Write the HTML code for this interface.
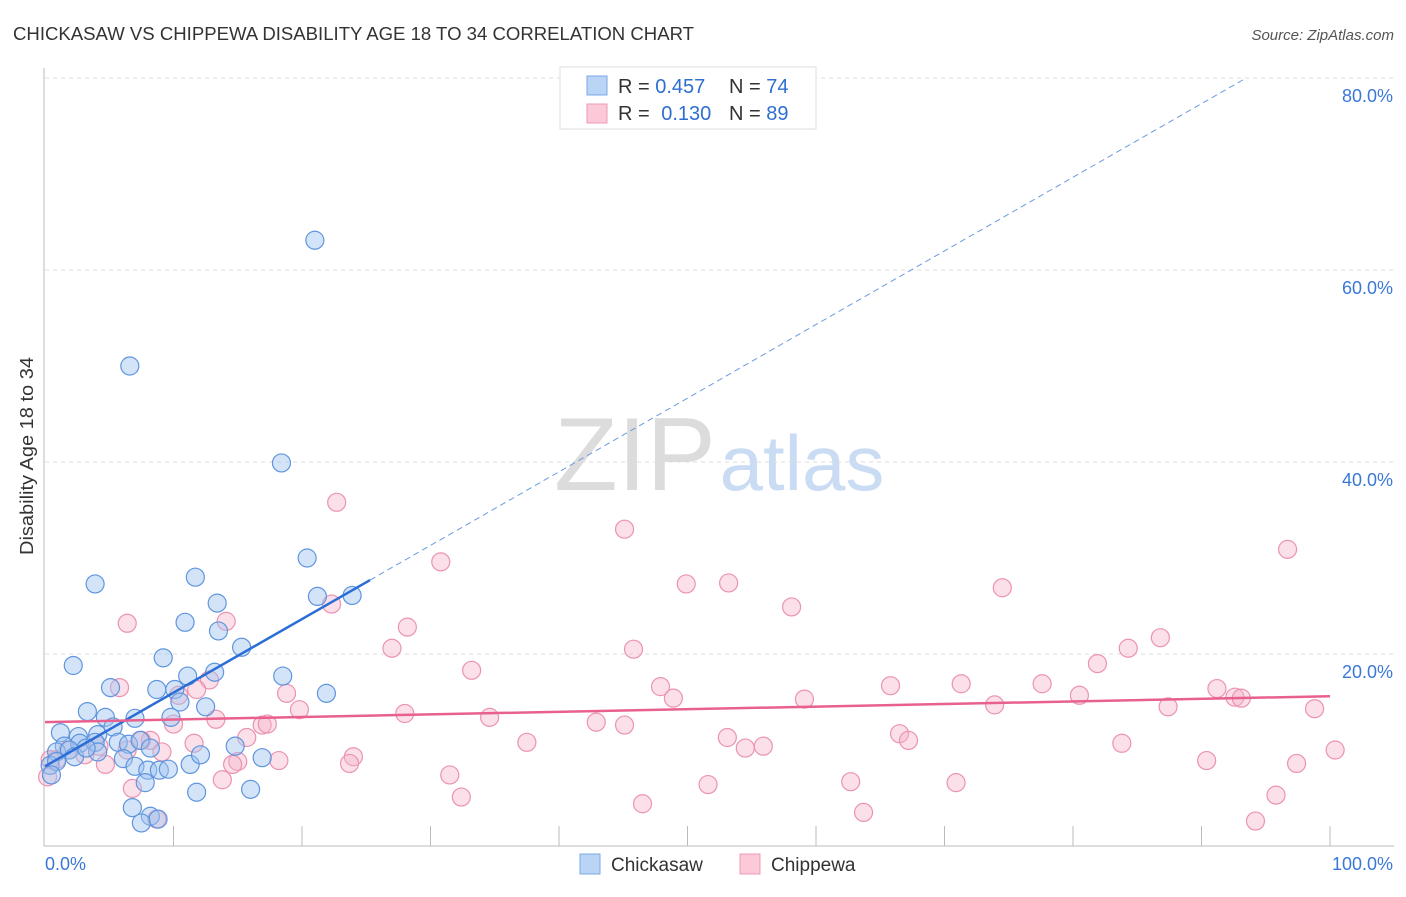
<!DOCTYPE html>
<html><head><meta charset="utf-8"><style>
body{margin:0;background:#fff;font-family:"Liberation Sans",sans-serif;}
svg text{font-family:"Liberation Sans",sans-serif;}
</style></head><body>
<svg id="chart" width="1406" height="892" xmlns="http://www.w3.org/2000/svg">
<text x="13" y="40" font-size="18" fill="#333" textLength="681" lengthAdjust="spacingAndGlyphs">CHICKASAW VS CHIPPEWA DISABILITY AGE 18 TO 34 CORRELATION CHART</text>
<text x="1394" y="40" font-size="15" fill="#555" text-anchor="end" font-style="italic">Source: ZipAtlas.com</text>
<g>
<text x="635" y="490" font-size="104" fill="#dcdcdc" text-anchor="middle" font-family="Liberation Serif,serif">ZIP</text>
<text x="802" y="490" font-size="78" fill="#c9dcf3" text-anchor="middle">atlas</text>
</g>
<g id="grid"></g>
<g id="axes"></g>
<g id="pts"></g>
<g id="lines"></g>
<text transform="translate(33,456) rotate(-90)" font-size="18" fill="#333" text-anchor="middle" textLength="198" lengthAdjust="spacingAndGlyphs">Disability Age 18 to 34</text>
<g>
<rect x="560" y="67" width="256" height="62" fill="#fff" stroke="#ddd"/>
<rect x="587" y="76" width="20" height="19" fill="#b9d4f5" stroke="#7aa8e6"/>
<rect x="587" y="104" width="20" height="19" fill="#fbc9d7" stroke="#ef9bb5"/>
<text x="618" y="93" font-size="20" fill="#333">R = <tspan fill="#2f6fd0">0.457</tspan></text>
<text x="729" y="93" font-size="20" fill="#333">N = <tspan fill="#2f6fd0">74</tspan></text>
<text x="618" y="120" font-size="20" fill="#333">R = <tspan fill="#2f6fd0" dx="6">0.130</tspan></text>
<text x="729" y="120" font-size="20" fill="#333">N = <tspan fill="#2f6fd0">89</tspan></text>
</g>
<g>
<rect x="580" y="854" width="20" height="20" fill="#b9d4f5" stroke="#7aa8e6"/>
<text x="611" y="871" font-size="19" fill="#333">Chickasaw</text>
<rect x="740" y="854" width="20" height="20" fill="#fbc9d7" stroke="#ef9bb5"/>
<text x="771" y="871" font-size="19" fill="#333">Chippewa</text>
</g>
</svg>
<script>
const yTicks=[20,40,60,80];
const yTickLabels=["20.0%","40.0%","60.0%","80.0%"];
const xEndLabels=["0.0%","100.0%"];
const blueX=[21.0,6.6,18.4,20.4,3.9,11.7,21.2,23.9,13.4,10.9,13.5,15.3,2.2,9.2,11.1,13.2,5.1,8.7,10.1,18.5,21.9,10.5,12.5,3.3,4.7,7.0,9.8,1.2,2.6,4.1,5.3,1.5,2.7,3.9,5.7,0.9,1.9,2.3,4.1,6.5,7.4,8.2,14.8,16.9,6.1,7.0,8.0,8.9,9.6,11.3,12.1,0.4,0.9,7.8,11.8,16.0,6.8,8.2,7.5,8.8,0.5,3.2];
const blueY=[63.1,50.0,39.9,30.0,27.3,28.0,26.0,26.1,25.3,23.3,22.4,20.7,18.8,19.6,17.7,18.1,16.5,16.3,16.3,17.7,15.9,15.0,14.5,14.0,13.4,13.3,13.4,11.8,11.4,11.6,12.4,10.4,10.7,10.8,10.8,9.8,10.0,9.3,9.8,10.6,11.0,10.2,10.4,9.2,9.1,8.3,7.9,7.9,8.0,8.5,9.5,8.4,8.8,6.6,5.6,5.9,4.0,3.1,2.4,2.8,7.4,10.2];
const pinkX=[22.7,45.1,96.7,30.8,49.9,53.2,74.5,22.3,58.1,6.4,14.1,28.2,86.8,27.0,45.8,84.3,81.9,33.2,12.8,5.8,47.9,48.9,59.1,65.8,71.3,77.6,80.5,91.2,92.6,93.1,98.8,10.4,11.8,18.8,19.8,28.0,34.6,42.9,45.1,13.3,16.9,17.3,73.9,87.4,10.0,83.8,66.5,67.2,53.1,54.5,55.9,37.5,11.6,15.7,8.2,9.1,7.5,6.4,4.2,1.8,3.1,0.9,0.4,4.7,15.0,14.6,24.0,23.7,18.2,31.5,90.4,97.4,100.4,62.7,70.9,51.6,32.4,46.5,63.7,95.8,94.2,6.8,13.8,8.7,0.2];
const pinkY=[35.8,33.0,30.9,29.6,27.3,27.4,26.9,25.2,24.9,23.2,23.4,22.8,21.7,20.6,20.5,20.6,19.0,18.3,17.3,16.5,16.6,15.4,15.3,16.7,16.9,16.9,15.7,16.4,15.5,15.4,14.3,15.7,16.3,15.9,14.2,13.8,13.4,12.9,12.6,13.2,12.6,12.7,14.7,14.5,12.7,10.7,11.7,11.0,11.3,10.2,10.4,10.8,10.7,11.3,11.0,9.8,11.0,10.0,10.4,10.0,9.5,9.0,9.0,8.5,8.8,8.5,9.3,8.6,8.9,7.4,8.9,8.6,10.0,6.7,6.6,6.4,5.1,4.4,3.5,5.3,2.6,6.0,6.9,2.8,7.2];
const blueTrend=[8.3,0.767]; // intercept, slope
const pinkTrend=[12.9,0.027];
const blueSolidEnd=25.3;
const NS="http://www.w3.org/2000/svg";
const X0=45,X1=1330,Y0=846,Y80=78;
const sx=v=>X0+(X1-X0)*v/100;
const sy=v=>Y0-(Y0-Y80)*v/80;
function mk(tag,attrs,parent){const e=document.createElementNS(NS,tag);for(const k in attrs)e.setAttribute(k,attrs[k]);parent.appendChild(e);return e;}
const grid=document.getElementById('grid'),axes=document.getElementById('axes');
yTicks.forEach((t,i)=>{
 const l=mk('line',{x1:X0,x2:1394,y1:sy(t),y2:sy(t),stroke:'#ddd','stroke-dasharray':'4,4'},grid);
 
 
 const tx=mk('text',{x:1393,y:sy(t)+24,'font-size':18,fill:'#3a78d8','text-anchor':'end'},axes);
 tx.textContent=yTickLabels[i];
 
 
});
mk('line',{x1:44,x2:44,y1:68,y2:846,stroke:'#bbb'},axes);
mk('line',{x1:44,x2:1394,y1:846,y2:846,stroke:'#bbb'},axes);
for(let i=1;i<=10;i++){
 const t=mk('line',{x1:sx(i*10),x2:sx(i*10),y1:826,y2:846,stroke:'#bbb'},axes);
 
 
}
const xl0=mk('text',{x:45,y:870,'font-size':18,fill:'#3a78d8'},axes);xl0.textContent=xEndLabels[0];


const xl1=mk('text',{x:1393,y:870,'font-size':18,fill:'#3a78d8','text-anchor':'end'},axes);xl1.textContent=xEndLabels[1];


const pts=document.getElementById('pts');
pinkX.forEach((x,i)=>{
 const c=mk('circle',{cx:sx(x),cy:sy(pinkY[i]),r:9,fill:'rgba(246,178,200,0.4)',stroke:'#eb93b0','stroke-width':1.2},pts);
 
 
});
blueX.forEach((x,i)=>{
 const c=mk('circle',{cx:sx(x),cy:sy(blueY[i]),r:9,fill:'rgba(160,196,240,0.45)',stroke:'#5f95de','stroke-width':1.2},pts);
 
 
});
const lines=document.getElementById('lines');
const by=x=>blueTrend[0]+blueTrend[1]*x;
const bs=mk('line',{x1:sx(0),y1:sy(by(0)),x2:sx(blueSolidEnd),y2:sy(by(blueSolidEnd)),stroke:'#2a6dd6','stroke-width':2.5},lines);


const xEnd=(80-blueTrend[0])/blueTrend[1];
const bd=mk('line',{x1:sx(blueSolidEnd),y1:sy(by(blueSolidEnd)),x2:sx(xEnd),y2:sy(80),stroke:'#6a9be0','stroke-width':1,'stroke-dasharray':'6,4'},lines);


const py=x=>pinkTrend[0]+pinkTrend[1]*x;
const pl=mk('line',{x1:sx(0),y1:sy(py(0)),x2:sx(100),y2:sy(py(100)),stroke:'#e8608e','stroke-width':2.5},lines);


</script>
</body></html>
